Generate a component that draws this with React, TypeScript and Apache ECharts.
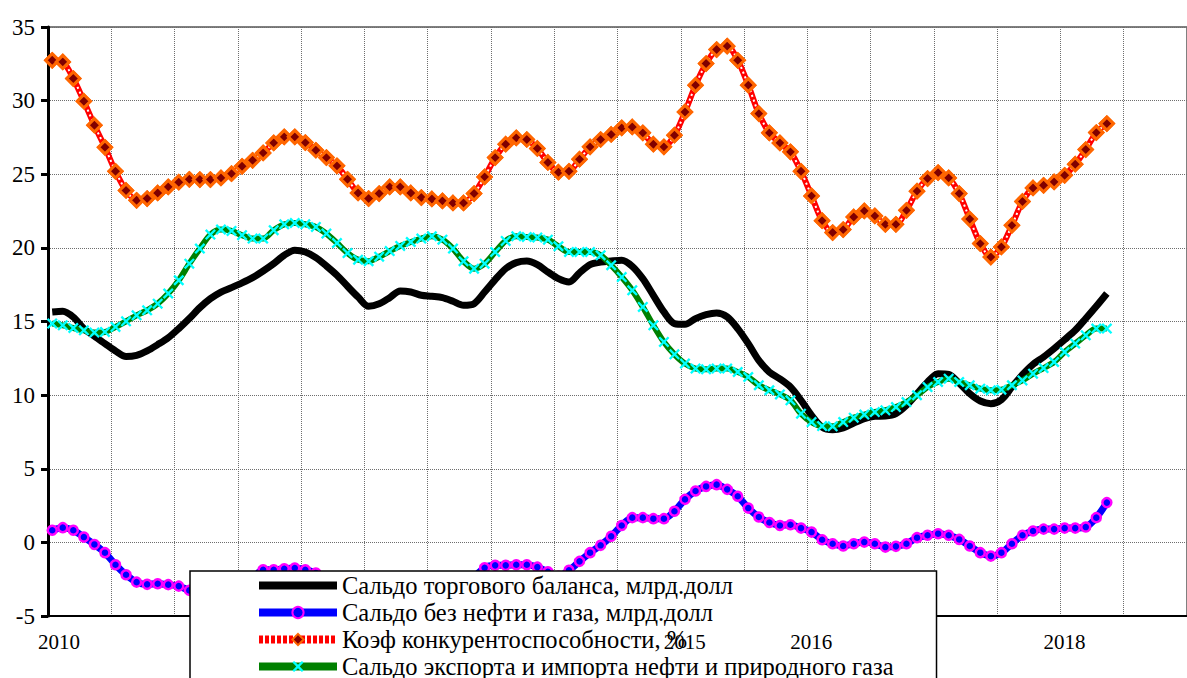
import React, { useEffect, useRef } from "react";
import * as echarts from "echarts";

// ---- data ----
const START_YEAR = 2010;
const END_YEAR = 2019;
const MONTH_OFFSET = 0.4; // points plotted mid-month
const X_LABEL_YEARS = [2010, 2015, 2016, 2018];

const SERIES_NAMES = [
  "Сальдо торгового баланса, млрд.долл",
  "Сальдо без нефти и газа, млрд.долл",
  "Коэф конкурентоспособности, %",
  "Сальдо экспорта и импорта нефти и природного газа",
];

const tradeBalance = [
  15.65, 15.7, 15.3, 14.52, 14.0, 13.5, 13.0, 12.62, 12.7, 13.0,
  13.43, 13.9, 14.52, 15.2, 15.94, 16.55, 17.0, 17.3, 17.62, 17.98,
  18.43, 18.93, 19.5, 19.84, 19.72, 19.34, 18.77, 18.14, 17.39, 16.66,
  16.03, 16.2, 16.62, 17.07, 17.0, 16.78, 16.71, 16.62, 16.37, 16.1,
  16.21, 17.0, 17.84, 18.59, 19.0, 19.11, 18.86, 18.36, 17.91, 17.68,
  18.3, 18.86, 19.04, 19.11, 19.16, 18.75, 17.91, 16.78, 15.65, 14.86,
  14.81, 15.2, 15.47, 15.58, 15.31, 14.52, 13.5, 12.36, 11.57, 11.1,
  10.55, 9.65, 8.63, 7.83, 7.65, 7.77, 8.1, 8.4, 8.56, 8.58,
  8.74, 9.31, 10.1, 10.89, 11.46, 11.41, 10.82, 10.1, 9.6, 9.42,
  9.69, 10.55, 11.39, 12.09, 12.59, 13.16, 13.77, 14.4, 15.2, 16.03,
  16.9,
];

const nonOilBalance = [
  0.82, 1.0, 0.82, 0.36, -0.14, -0.7, -1.52, -2.2, -2.7, -2.85,
  -2.81, -2.87, -2.97, -3.26, -3.45, -3.55, -3.5, -3.2, -2.9, -2.45,
  -1.86, -1.86, -1.79, -1.74, -1.86, -2.08, -2.4, -2.8, -3.1, -3.3,
  -3.4, -3.35, -3.25, -3.15, -3.1, -3.15, -3.25, -3.2, -3.0, -2.75,
  -2.35, -1.72, -1.56, -1.56, -1.52, -1.52, -1.68, -2.0, -2.3, -1.9,
  -1.29, -0.7, -0.2, 0.41, 1.15, 1.68, 1.68, 1.61, 1.61, 2.11,
  2.92, 3.49, 3.8, 3.92, 3.6, 3.13, 2.33, 1.72, 1.35, 1.15,
  1.2, 0.97, 0.7, 0.18, -0.09, -0.25, -0.09, 0.02, -0.09, -0.32,
  -0.27, -0.09, 0.32, 0.48, 0.59, 0.48, 0.2, -0.25, -0.7, -0.93,
  -0.7, -0.09, 0.48, 0.77, 0.9, 0.9, 0.97, 0.97, 1.04, 1.68,
  2.7,
];

const competitiveness = [
  32.74, 32.63, 31.5, 29.96, 28.33, 26.83, 25.2, 23.9, 23.23, 23.35,
  23.73, 24.14, 24.46, 24.66, 24.64, 24.64, 24.75, 25.04, 25.54, 25.95,
  26.45, 27.13, 27.54, 27.54, 27.15, 26.63, 26.13, 25.57, 24.66, 23.73,
  23.35, 23.69, 24.14, 24.14, 23.73, 23.42, 23.32, 23.19, 23.05, 23.05,
  23.69, 24.82, 26.13, 27.04, 27.47, 27.36, 26.75, 25.8, 25.14, 25.2,
  26.02, 26.86, 27.36, 27.7, 28.15, 28.21, 27.81, 27.04, 26.86, 27.65,
  29.23, 31.05, 32.52, 33.47, 33.7, 32.74, 31.05, 29.12, 27.81, 27.13,
  26.52, 25.2, 23.53, 21.85, 21.04, 21.24, 22.1, 22.51, 22.17, 21.6,
  21.6, 22.55, 23.85, 24.71, 25.11, 24.75, 23.69, 21.96, 20.29, 19.38,
  20.06, 21.53, 23.15, 24.07, 24.25, 24.48, 24.93, 25.68, 26.68, 27.83,
  28.44,
];

const oilGasBalance = [
  14.86, 14.74, 14.56, 14.4, 14.25, 14.29, 14.63, 15.01, 15.42, 15.76,
  16.21, 16.9, 17.8, 18.93, 19.95, 20.9, 21.24, 21.15, 20.86, 20.63,
  20.63, 21.2, 21.6, 21.69, 21.6, 21.42, 20.97, 20.33, 19.65, 19.2,
  19.09, 19.4, 19.78, 20.13, 20.4, 20.63, 20.79, 20.56, 19.95, 19.09,
  18.59, 18.93, 19.72, 20.47, 20.79, 20.74, 20.7, 20.56, 20.11, 19.72,
  19.72, 19.72, 19.5, 18.82, 18.02, 17.12, 15.99, 14.74, 13.61, 12.77,
  12.14, 11.8, 11.75, 11.8, 11.8, 11.57, 11.23, 10.67, 10.33, 10.05,
  9.65, 8.74, 8.17, 7.9, 7.88, 8.17, 8.47, 8.68, 8.85, 8.97,
  9.19, 9.53, 9.99, 10.55, 10.89, 11.12, 10.89, 10.67, 10.44, 10.33,
  10.37, 10.67, 11.0, 11.46, 11.84, 12.25, 12.93, 13.5, 14.06, 14.52,
  14.52,
];

const FONT = "Liberation Serif, Times New Roman, serif";
const X_SYMBOL =
  "path://M0,1.5 L1.5,0 L5,3.5 L8.5,0 L10,1.5 L6.5,5 L10,8.5 L8.5,10 L5,6.5 L1.5,10 L0,8.5 L3.5,5 Z";
const BAR_ICON = "path://M0,0 L78,0 L78,8 L0,8 Z";

const toPoints = (vals: number[]) =>
  vals.map((v, i) => [START_YEAR + (i + MONTH_OFFSET) / 12, v]);

export default function App() {
  const ref = useRef<HTMLDivElement>(null);

  useEffect(() => {
    if (!ref.current) return;
    const chart = echarts.init(ref.current, undefined, { renderer: "svg" });
    const gridLine = { show: true, lineStyle: { color: "#6e6e6e", width: 1, type: "dotted" as const } };
    const SMOOTH = 0.3;

    chart.setOption({
      animation: false,
      backgroundColor: "#ffffff",
      grid: {
        left: 48,
        top: 27,
        width: 1159,
        height: 589,
        show: true,
        borderColor: "#808080",
        borderWidth: 2,
        backgroundColor: "transparent",
      },
      xAxis: [
        {
          type: "value",
          min: START_YEAR,
          max: END_YEAR,
          interval: 0.5,
          position: "bottom",
          axisLine: { show: true, onZero: false, lineStyle: { color: "#000", width: 2 } },
          axisTick: { show: false },
          axisLabel: { show: false },
          splitLine: gridLine,
          z: 0,
        },
        {
          type: "value",
          min: START_YEAR,
          max: END_YEAR,
          interval: 0.5,
          position: "bottom",
          axisLine: { show: false, onZero: false },
          axisTick: { show: false },
          splitLine: { show: false },
          axisLabel: {
            show: true,
            margin: 15,
            color: "#000",
            fontFamily: FONT,
            fontSize: 21,
            showMaxLabel: false,
            formatter: (v: number) => {
              const y = X_LABEL_YEARS.find((yy) => Math.abs(yy - v) < 1e-6);
              if (y === undefined) return "";
              return y === START_YEAR ? `{first|${y}}` : `{std|${y}}`;
            },
            rich: {
              first: { fontFamily: FONT, fontSize: 21, color: "#000", padding: [0, 0, 0, 22] },
              std: { fontFamily: FONT, fontSize: 21, color: "#000", padding: [0, 0, 0, 8] },
            },
          },
          z: 10,
        },
      ],
      yAxis: {
        type: "value",
        min: -5,
        max: 35,
        interval: 5,
        axisLine: { show: true, lineStyle: { color: "#000", width: 3 } },
        axisTick: { show: true, length: 7, lineStyle: { color: "#000", width: 3 } },
        axisLabel: { color: "#000", fontFamily: FONT, fontSize: 23, margin: 13 },
        splitLine: gridLine,
      },
      legend: {
        orient: "vertical",
        left: 190,
        top: 571,
        height: 200,
        padding: [2, 43, 20, 65],
        itemWidth: 78,
        itemHeight: 14,
        itemGap: 2,
        backgroundColor: "#ffffff",
        borderColor: "#000",
        borderWidth: 1.5,
        borderRadius: 0,
        selectedMode: false,
        z: 6,
        textStyle: { color: "#000", fontFamily: FONT, fontSize: 24.5 },
        data: [
          { name: SERIES_NAMES[0], icon: BAR_ICON, itemStyle: { color: "#000" } },
          { name: SERIES_NAMES[1], lineStyle: { width: 8, color: "#0000ff" } },
          { name: SERIES_NAMES[2], lineStyle: { width: 8, color: "#ff0000", type: [4, 2] } },
          { name: SERIES_NAMES[3], lineStyle: { width: 8, color: "#008000" } },
        ],
      },
      series: [
        {
          name: SERIES_NAMES[0],
          type: "line",
          data: toPoints(tradeBalance),
          smooth: SMOOTH,
          symbol: "none",
          lineStyle: { color: "#000", width: 7 },
          itemStyle: { color: "#000" },
          z: 2,
        },
        {
          name: SERIES_NAMES[1],
          type: "line",
          data: toPoints(nonOilBalance),
          smooth: SMOOTH,
          symbol: "circle",
          symbolSize: 9,
          showAllSymbol: true,
          lineStyle: { color: "#0000ff", width: 7 },
          itemStyle: { color: "#0000ff", borderColor: "#ff00ff", borderWidth: 2.5 },
          z: 2,
        },
        {
          name: SERIES_NAMES[2],
          type: "line",
          data: toPoints(competitiveness),
          smooth: SMOOTH,
          symbol: "diamond",
          symbolSize: 13,
          showAllSymbol: true,
          lineStyle: { color: "#ff0000", width: 6 },
          itemStyle: { color: "#800000", borderColor: "#ff6600", borderWidth: 3 },
          z: 2,
        },
        {
          name: "competitiveness-pattern",
          type: "line",
          data: toPoints(competitiveness),
          smooth: SMOOTH,
          symbol: "none",
          silent: true,
          lineStyle: { color: "#ffffff", width: 2, type: [2, 3] },
          z: 3,
        },
        {
          name: "competitiveness-markers",
          type: "line",
          data: toPoints(competitiveness),
          smooth: SMOOTH,
          symbol: "diamond",
          symbolSize: 13,
          showAllSymbol: true,
          silent: true,
          lineStyle: { opacity: 0, width: 0 },
          itemStyle: { color: "#800000", borderColor: "#ff6600", borderWidth: 3 },
          z: 4,
        },
        {
          name: SERIES_NAMES[3],
          type: "line",
          data: toPoints(oilGasBalance),
          smooth: SMOOTH,
          symbol: X_SYMBOL,
          symbolSize: 11,
          showAllSymbol: true,
          lineStyle: { color: "#008000", width: 6 },
          itemStyle: { color: "#00ffff" },
          z: 2,
        },
      ],
    });

    return () => chart.dispose();
  }, []);

  return (
    <div
      ref={ref}
      style={{ position: "fixed", left: 0, top: 0, width: 1187, height: 678, background: "#fff" }}
    />
  );
}
